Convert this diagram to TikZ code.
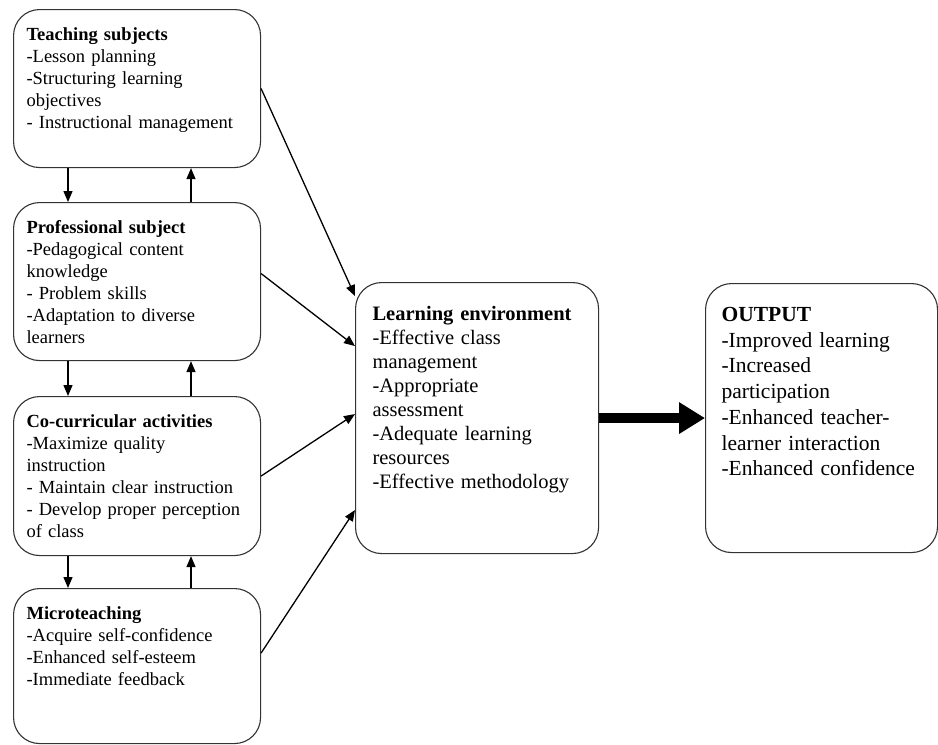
\documentclass[tikz,border=0pt]{standalone}
\usepackage{fontspec}
\setmainfont{Liberation Serif}
\usepackage{tikz}
\usetikzlibrary{arrows.meta,positioning}

\tikzset{
  box/.style={draw=black!80, line width=1.1pt, rounded corners=26pt, anchor=north west,
    align=left, inner xsep=13pt, inner ysep=4pt, text height=27pt, text width=221pt,
    font=\fontsize{18.5}{22}\selectfont},
  bigbox/.style={box, inner xsep=17pt, text height=34pt},
  arr/.style={line width=1.3pt, -{Triangle[length=11pt,width=9pt]}},
  fatarr/.style={line width=10pt, -{Triangle[length=26pt,width=30pt]}}
}

\begin{document}
\begin{tikzpicture}[x=1pt, y=-1pt]
\useasboundingbox (0,0) rectangle (938,745);

% left column
\node[box, text depth=123pt] (teach) at (13,9) {\textbf{Teaching subjects}\\-Lesson planning\\-Structuring learning\\objectives\\- Instructional management};
\node[box, text depth=123pt] (prof) at (13,202) {\textbf{Professional subject}\\-Pedagogical content\\knowledge\\- Problem skills\\-Adaptation to diverse\\learners};
\node[box, text depth=124pt] (cocur) at (13,396) {\textbf{Co-curricular activities}\\-Maximize quality\\instruction\\- Maintain clear instruction\\- Develop proper perception\\of class};
\node[box, text depth=120pt] (micro) at (13,588) {\textbf{Microteaching}\\-Acquire self-confidence\\-Enhanced self-esteem\\-Immediate feedback};

% middle and right
\node[bigbox, text width=209pt, text depth=229pt, font=\fontsize{20.5}{24}\selectfont] (le) at (355,282) {\textbf{Learning environment}\\-Effective class\\management\\-Appropriate\\assessment\\-Adequate learning\\resources\\-Effective methodology};
\node[bigbox, inner xsep=16pt, text width=200pt, text depth=227pt, font=\fontsize{21.5}{25.7}\selectfont] (out) at (705,283) {\textbf{OUTPUT}\\-Improved learning\\-Increased\\participation\\-Enhanced teacher-\\learner interaction\\-Enhanced confidence};

% up and down between the left boxes
\foreach \a/\b in {teach/prof, prof/cocur, cocur/micro} {
\draw[arr] ([xshift=55pt]\a.south west) -- ([xshift=55pt]\b.north west);
\draw[arr] ([xshift=178pt]\b.north west) -- ([xshift=178pt]\a.south west); }

% into the learning environment
\foreach \src/\dy/\dz in {teach/0/122, prof/8/72, cocur/0/4, micro/13/-92}
\draw[arr] ([yshift=\dy pt]\src.east) -- ([yshift=\dz pt]le.west);

\draw[fatarr] (le.east) -- (out.west);
\end{tikzpicture}
\end{document}
